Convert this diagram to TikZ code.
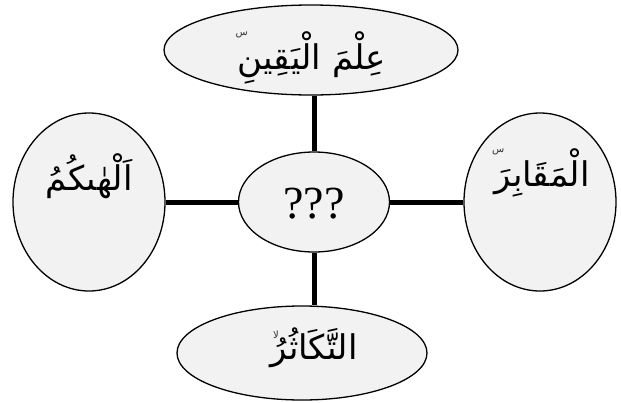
\documentclass[tikz,border=0pt]{standalone}
\usepackage{fontspec}
\setmainfont{Liberation Serif}
\newfontfamily\arabicfont[Script=Arabic]{DejaVu Sans}
\newfontfamily\qfont{Liberation Serif}
\TeXXeTstate=1
\usetikzlibrary{shapes.geometric}
\definecolor{fillgray}{HTML}{F2F2F2}
\tikzset{
  bubble/.style={ellipse, draw=black, line width=1.3pt, fill=fillgray, inner sep=0pt},
  arlabel/.style={font=\arabicfont\fontsize{34}{40}\selectfont, inner sep=0pt},
  waqf/.style={font=\arabicfont\fontsize{10}{10}\selectfont, inner sep=0pt, text=black!80},
  link/.style={line width=5pt}
}
\begin{document}
\begin{tikzpicture}[x=1pt,y=-1pt]
\path[use as bounding box] (0,0) rectangle (621,402);
\node[bubble, minimum width=294pt, minimum height=90pt] (t) at (311,50) {};
\node[bubble, minimum width=152pt, minimum height=178pt] (l) at (89,202) {};
\node[bubble, minimum width=152pt, minimum height=178pt] (r) at (540,202) {};
\node[bubble, minimum width=250pt, minimum height=94pt] (b) at (302,353) {};
\node[bubble, minimum width=151pt, minimum height=100pt] (c) at (314,202) {};
\draw[link] (c.north) -- (c.north |- t.south);
\draw[link] (c.south) -- (c.south |- b.north);
\draw[link] (c.west) -- (l.east);
\draw[link] (c.east) -- (r.west);
\node[arlabel] (tl) at (312,58) {\beginR عِلْمَ الْيَقِينِ\endR};
\node[waqf] (tw) at ([xshift=4pt,yshift=-3pt]tl.north west) {س};
\node[arlabel] (ll) at (89,176) {\beginR اَلْهٰىكُمُ\endR};
\node[arlabel] (rl) at (542,173) {\beginR الْمَقَابِرَ\endR};
\node[waqf] (rw) at ([xshift=4pt,yshift=-3pt]rl.north west) {س};
\node[arlabel] (bl) at (314,348) {\beginR التَّكَاثُرُ\endR};
\node[waqf] (bw) at ([xshift=6pt,yshift=-7pt]bl.north west) {لا};
\node[font=\qfont\fontsize{46}{50}\selectfont] (cl) at (314,204) {???};
\end{tikzpicture}
\end{document}
